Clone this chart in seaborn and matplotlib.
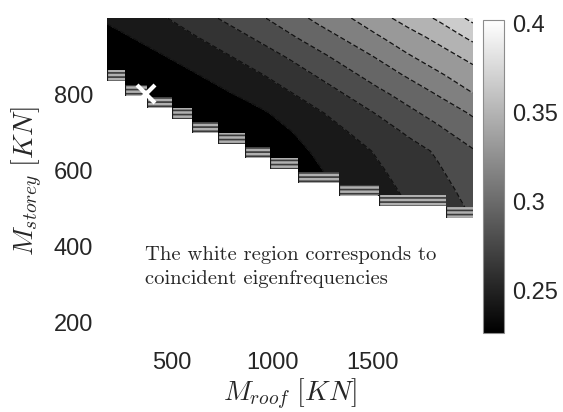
import numpy as np
import matplotlib
matplotlib.use("Agg")
import matplotlib.pyplot as plt
import seaborn as sns
from matplotlib.colors import Normalize
from matplotlib.cm import ScalarMappable

# grid of the map (KN)
m_roof = [175, 325, 475, 625, 775, 925, 1075, 1225, 1375, 1525, 1675, 1825, 2000]
m_storey = [450, 500, 550, 600, 650, 700, 750, 800, 850, 900, 950, 1000]

# values, one row per m_storey (bottom to top)
ratio = [
    [0.226, 0.226, 0.226, 0.226, 0.226, 0.226, 0.228, 0.237, 0.245, 0.252, 0.259, 0.268, 0.280],
    [0.226, 0.226, 0.226, 0.226, 0.226, 0.226, 0.229, 0.238, 0.247, 0.254, 0.261, 0.271, 0.281],
    [0.226, 0.226, 0.226, 0.226, 0.226, 0.226, 0.231, 0.241, 0.248, 0.256, 0.264, 0.274, 0.284],
    [0.226, 0.226, 0.226, 0.226, 0.226, 0.226, 0.235, 0.242, 0.251, 0.259, 0.268, 0.277, 0.289],
    [0.226, 0.226, 0.226, 0.226, 0.226, 0.228, 0.237, 0.246, 0.254, 0.263, 0.272, 0.281, 0.295],
    [0.226, 0.226, 0.226, 0.226, 0.226, 0.231, 0.242, 0.251, 0.261, 0.270, 0.281, 0.292, 0.306],
    [0.226, 0.226, 0.226, 0.226, 0.232, 0.240, 0.249, 0.259, 0.269, 0.280, 0.292, 0.303, 0.316],
    [0.226, 0.226, 0.226, 0.234, 0.242, 0.250, 0.259, 0.269, 0.280, 0.292, 0.303, 0.315, 0.331],
    [0.226, 0.228, 0.236, 0.243, 0.251, 0.259, 0.269, 0.280, 0.292, 0.304, 0.316, 0.329, 0.342],
    [0.229, 0.237, 0.244, 0.252, 0.260, 0.270, 0.280, 0.292, 0.304, 0.316, 0.330, 0.341, 0.355],
    [0.238, 0.245, 0.253, 0.261, 0.271, 0.281, 0.293, 0.305, 0.317, 0.330, 0.342, 0.354, 0.371],
    [0.246, 0.254, 0.261, 0.272, 0.282, 0.293, 0.305, 0.318, 0.330, 0.343, 0.356, 0.369, 0.389],
]

# edge of the coincident-eigenfrequency (white) region
edge_roof = [175, 265, 375, 500, 600, 730, 865, 990, 1130, 1330, 1530, 1865, 2000]
edge_storey = [863, 824, 792, 763, 726, 697, 660, 632, 595, 560, 534, 503, 503]

best_roof, best_storey = 370, 800
vmin, vmax = 0.226, 0.402

sns.set_theme(style="white")
plt.rcParams["font.family"] = ["Liberation Sans", "DejaVu Sans"]
plt.rcParams["mathtext.fontset"] = "cm"
plt.rcParams["hatch.linewidth"] = 1.2

fig = plt.figure(figsize=(5.63, 4.12), dpi=100)
ax = fig.add_axes([0.190, 0.163, 0.650, 0.793])
cax = fig.add_axes([0.858, 0.192, 0.037, 0.760])

cmap = plt.get_cmap("gray")
levels = np.linspace(vmin, vmax, 11)
levels[0] = 0.22
band_colors = [cmap(i / 10) for i in range(10)]

z = np.array(ratio)
ax.contourf(m_roof, m_storey, z, levels=levels, colors=band_colors)
ax.contour(m_roof, m_storey, z, levels=levels[1:-1], colors="#111111",
           linewidths=0.9, linestyles=[(0, (4, 2))])

# striped strip just under the edge, then white below
ex = np.array(edge_roof)
ey = np.array(edge_storey)
ax.fill_between(ex, ey - 28, ey, step="post", facecolor="#b0b0b0",
                edgecolor="#3a3a3a", hatch="----", linewidth=0, zorder=3)
ax.vlines(ex[:-1], ey[:-1] - 28, ey[:-1], color="#1a1a1a", lw=1.6, zorder=3.5)
ax.fill_between(ex, 0, ey - 28, step="post", color="white", linewidth=0, zorder=4)

ax.plot([best_roof], [best_storey], marker="x", color="white", ms=13, mew=3, zorder=5)

ax.text(365, 400, "The white region corresponds to\ncoincident eigenfrequencies",
        fontfamily="cmr10", fontsize=14.8, ha="left", va="top", zorder=6,
        linespacing=1.42)

ax.set_xlim(175, 2000)
ax.set_ylim(140, 1000)
ax.set_xticks([500, 1000, 1500])
ax.set_yticks([200, 400, 600, 800])
sns.despine(ax=ax, left=True, bottom=True)
ax.tick_params(length=0, labelsize=17, colors="#262626")
ax.tick_params(axis="y", pad=10)
ax.tick_params(axis="x", pad=5)

ax.set_xlabel(r"$M_{roof}\ [KN]$", fontsize=20, color="#262626")
ax.set_ylabel(r"$M_{storey}\ [KN]$", fontsize=20, color="#262626")
ax.xaxis.set_label_coords(0.5, -0.098)
ax.yaxis.set_label_coords(-0.168, 0.5)

sm = ScalarMappable(norm=Normalize(vmin, vmax), cmap=cmap)
cb = fig.colorbar(sm, cax=cax)
cb.set_ticks([0.25, 0.3, 0.35, 0.4])
cb.set_ticklabels(["0.25", "0.3", "0.35", "0.4"])
cb.outline.set_edgecolor("#8c8c8c")
cb.outline.set_linewidth(0.8)
cax.tick_params(direction="in", length=3, width=0.6, color="#8c8c8c",
                labelsize=17, labelcolor="#262626", pad=6)

fig.savefig("out.png", dpi=100)
